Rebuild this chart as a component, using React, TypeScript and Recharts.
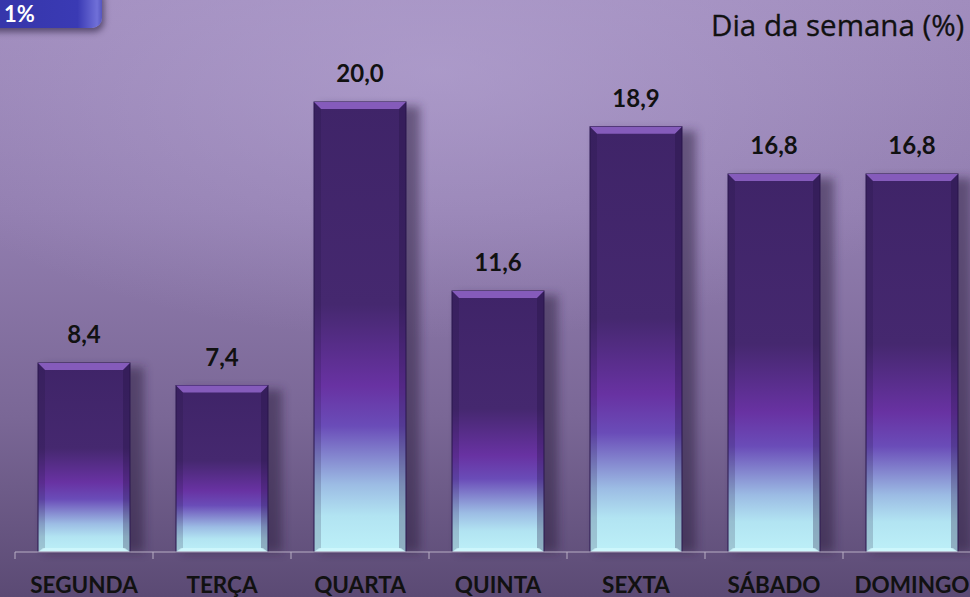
import React from 'react';
import { BarChart, Bar, XAxis, YAxis, LabelList } from 'recharts';

const days = ['SEGUNDA', 'TERÇA', 'QUARTA', 'QUINTA', 'SEXTA', 'SÁBADO', 'DOMINGO'];
const shares = [8.4, 7.4, 20.0, 11.6, 18.9, 16.8, 16.8];

const data = days.map((day, i) => ({ day, value: shares[i] }));

const FONT = 'Lato, "Open Sans", sans-serif';
const CHART_W = 981;
const CHART_H = 597;
const LEFT = 15;
const BAND = (CHART_W - LEFT) / days.length;

const BevelBar = (props: any) => {
  const { x, y, width, height } = props;
  if (!height || height <= 0) return null;
  const bev = 7;
  return (
    <g>
      <rect x={x + 6} y={y + 4} width={width + 8} height={height - 4} fill="#2a1c3c" opacity={0.5} filter="url(#barShadow)" />
      <rect x={x} y={y} width={width} height={height} fill="url(#barFill)" stroke="#2c1850" strokeWidth={1} />
      {/* top bevel */}
      <polygon
        points={`${x},${y} ${x + width},${y} ${x + width - bev},${y + bev} ${x + bev},${y + bev}`}
        fill="#8d62c4"
        opacity={0.9}
      />
      {/* side bevels */}
      <polygon
        points={`${x},${y} ${x + bev},${y + bev} ${x + bev},${y + height - 4} ${x},${y + height}`}
        fill="#1e0f3a"
        opacity={0.18}
      />
      <polygon
        points={`${x + width},${y} ${x + width - bev},${y + bev} ${x + width - bev},${y + height - 4} ${x + width},${y + height}`}
        fill="#1e0f3a"
        opacity={0.28}
      />
      {/* bottom bevel */}
      <polygon
        points={`${x},${y + height} ${x + width},${y + height} ${x + width - 5},${y + height - 4} ${x + 5},${y + height - 4}`}
        fill="#d8fbff"
        opacity={0.6}
      />
    </g>
  );
};

const DayTick = (props: any) => {
  const { x, y, payload } = props;
  return (
    <g>
      <line x1={x - BAND / 2} y1={y - 8} x2={x - BAND / 2} y2={y - 1} stroke="#b8aec4" strokeWidth={1} />
      <text x={x} y={y + 33} textAnchor="middle" fontFamily={FONT} fontWeight={700} fontSize={22.5} fill="#111">
        {payload.value}
      </text>
    </g>
  );
};

export default function App() {
  return (
    <div
      style={{
        position: 'absolute',
        left: 0,
        top: 0,
        width: 970,
        height: 597,
        overflow: 'hidden',
        background:
          'radial-gradient(ellipse 60% 45% at 45% 12%, rgba(184,168,214,0.55), rgba(184,168,214,0) 100%), linear-gradient(180deg, #a08cbd 0%, #927eb0 35%, #7a6796 70%, #5b4a74 100%)',
      }}
    >
      {/* badge at top-left */}
      <div
        style={{
          position: 'absolute',
          left: -20,
          top: -14,
          width: 122,
          height: 42,
          borderRadius: 10,
          background: 'linear-gradient(90deg, #3535a8 0%, #3a3ab4 80%, #7070d8 96%, #5555c0 100%)',
          boxShadow: '2px 4px 6px rgba(40,30,60,0.6)',
        }}
      />
      <div
        style={{
          position: 'absolute',
          left: 4,
          top: 2,
          fontFamily: FONT,
          fontWeight: 700,
          fontSize: 22,
          color: '#fff',
          lineHeight: '24px',
        }}
      >
        1%
      </div>
      <div
        style={{
          position: 'absolute',
          left: 711,
          top: 6,
          fontFamily: '"Open Sans", sans-serif',
          fontSize: 29.5,
          color: '#111',
          whiteSpace: 'nowrap',
          lineHeight: '38px',
          WebkitTextStroke: '0.3px #111',
        }}
      >
        Dia da semana (%)
      </div>
      <div style={{ position: 'absolute', left: 0, top: 0 }}>
        <BarChart
          width={CHART_W}
          height={CHART_H}
          data={data}
          margin={{ top: 57, right: 0, bottom: 0, left: LEFT }}
          barSize={92}
        >
          <defs>
            <linearGradient id="barFill" x1="0" y1="0" x2="0" y2="1">
              <stop offset="0" stopColor="#3f2468" />
              <stop offset="0.45" stopColor="#45286f" />
              <stop offset="0.63" stopColor="#6832a2" />
              <stop offset="0.72" stopColor="#6a4cb8" />
              <stop offset="0.85" stopColor="#9cbce4" />
              <stop offset="0.92" stopColor="#b2e4f2" />
              <stop offset="1" stopColor="#bdf0f8" />
            </linearGradient>
            <filter id="barShadow" x="-30%" y="-10%" width="160%" height="120%">
              <feGaussianBlur stdDeviation="5" />
            </filter>
          </defs>
          <XAxis
            dataKey="day"
            height={45}
            axisLine={{ stroke: '#b8aec4', strokeWidth: 1 }}
            tickLine={false}
            tick={<DayTick />}
            interval={0}
          />
          <YAxis hide width={0} domain={[0, 22]} />
          <Bar dataKey="value" shape={<BevelBar />} isAnimationActive={false}>
            <LabelList
              dataKey="value"
              position="top"
              offset={20}
              formatter={(v: any) => Number(v).toFixed(1).replace('.', ',')}
              style={{ fontFamily: FONT, fontWeight: 700, fontSize: 24, fill: '#111' }}
            />
          </Bar>
        </BarChart>
      </div>
    </div>
  );
}
